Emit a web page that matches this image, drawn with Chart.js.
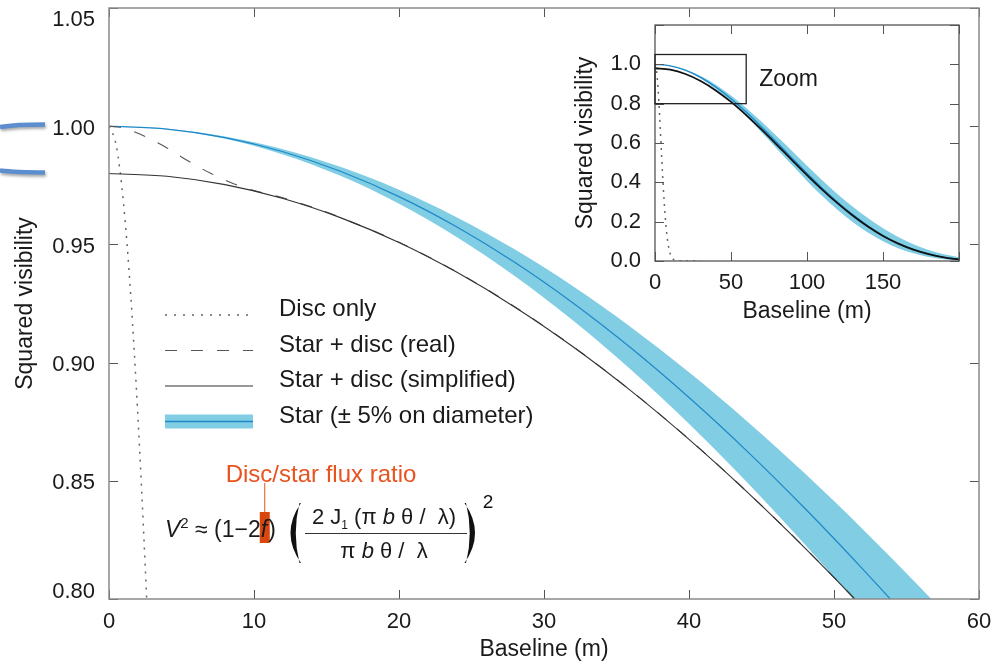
<!DOCTYPE html>
<html>
<head>
<meta charset="utf-8">
<script src="https://cdn.jsdelivr.net/npm/chart.js@4.4.1/dist/chart.umd.min.js"></script>
<style>
  html, body { margin: 0; padding: 0; background: #fff; }
  #wrap { position: relative; width: 1007px; height: 664px; overflow: hidden; }
  #mainChart { position: absolute; left: 0; top: 0; }
  #insetChart { position: absolute; left: 560px; top: 0; }
</style>
</head>
<body>
<div id="wrap">
  <canvas id="mainChart" width="1007" height="664"></canvas>
  <canvas id="insetChart" width="420" height="330"></canvas>
</div>
<script>
// main panel (zoom on the top of the curve)
const mainBaseline = [0, 4, 8, 12, 16, 20, 24, 28, 32, 36, 40, 44, 48, 52, 56, 60];
const starV2 = [1.0, 0.99879, 0.99518, 0.98919, 0.98084, 0.97021, 0.95733, 0.94230, 0.92520, 0.90614, 0.88521, 0.86256, 0.83830, 0.81257, 0.78553, 0.75731];
const starV2Small = [1.0, 0.99891, 0.99565, 0.99024, 0.98270, 0.97308, 0.96142, 0.94780, 0.93228, 0.91495, 0.89590, 0.87522, 0.85304, 0.82945, 0.80459, 0.77857];
const starV2Large = [1.0, 0.99867, 0.99469, 0.98808, 0.97890, 0.96719, 0.95304, 0.93655, 0.91780, 0.89694, 0.87409, 0.84940, 0.82303, 0.79513, 0.76589, 0.73547];
const simplifiedV2 = [0.98, 0.97881, 0.97528, 0.96941, 0.96122, 0.95081, 0.93818, 0.92345, 0.90670, 0.88802, 0.86751, 0.84531, 0.82153, 0.79632, 0.76982, 0.74216];

const realBaseline = [0, 1, 2, 3, 4, 5, 6, 7, 8, 9, 10, 12, 14, 16, 20, 24, 28, 32, 36, 40, 44, 48, 52, 56, 60];
const realV2 = [1.0, 0.9993, 0.9970, 0.9941, 0.9908, 0.9870, 0.9834, 0.9801, 0.9772, 0.9747, 0.9728, 0.9697, 0.9658, 0.96132, 0.9509, 0.93828, 0.92355, 0.90679, 0.88811, 0.8676, 0.8454, 0.82162, 0.7964, 0.7699, 0.74224];

const discBaseline = [0, 0.5, 1, 1.5, 2, 2.5, 3, 3.5, 4];
const discV2 = [1.0, 0.9918, 0.9675, 0.9284, 0.8763, 0.8136, 0.7430, 0.6675, 0.5898];

// inset (full curve)
const insetBaseline = [0, 10, 20, 30, 40, 50, 60, 70, 80, 90, 100, 110, 120, 130, 140, 150, 160, 170, 180, 190, 200];
const insetStar = [1.0, 0.99248, 0.97021, 0.93400, 0.88521, 0.82561, 0.75731, 0.68254, 0.60400, 0.52433, 0.44582, 0.37048, 0.30004, 0.23585, 0.17889, 0.12990, 0.09037, 0.05924, 0.03564, 0.01887, 0.00804];
const insetStarSmall = [1.0, 0.99321, 0.97308, 0.94028, 0.89590, 0.84141, 0.77857, 0.70882, 0.63543, 0.56023, 0.48489, 0.41101, 0.34098, 0.27660, 0.21825, 0.16657, 0.12198, 0.08472, 0.05624, 0.03458, 0.01887];
const insetStarLarge = [1.0, 0.99170, 0.96719, 0.92744, 0.87409, 0.80927, 0.73547, 0.65505, 0.57217, 0.48880, 0.40732, 0.33015, 0.26004, 0.19768, 0.14435, 0.10023, 0.06522, 0.03882, 0.02021, 0.00840, 0.00216];
const insetSimplified = [0.98, 0.97263, 0.95081, 0.91532, 0.86751, 0.80910, 0.74216, 0.66889, 0.59192, 0.51384, 0.43690, 0.36307, 0.29404, 0.23113, 0.17531, 0.12730, 0.08856, 0.05806, 0.03493, 0.01849, 0.00788];
const insetDiscBaseline = [0, 1, 2, 3, 4, 5, 6, 7, 8, 10, 12, 15, 20, 30];
const insetDiscV2 = [1.0, 0.9675, 0.8763, 0.7430, 0.5898, 0.4382, 0.3048, 0.1985, 0.1210, 0.0369, 0.0086, 0.0006, 0, 0];
const zoomRange = [0, 60, 0.80, 1.05];

const legendLabels = ['Disc only', 'Star + disc (real)', 'Star + disc (simplified)', 'Star (\u00b1 5% on diameter)'];

const FONT = '"Liberation Sans", Arial, Helvetica, sans-serif';
const bandColor = 'rgb(128,205,228)';
const starColor = 'rgb(30,136,200)';
const txt = '#1a1a1a';

Chart.defaults.font.family = FONT;
Chart.defaults.color = txt;

function pts(xs, ys) {
    return xs.map((x, i) => ({ x: x, y: ys[i] }));
}

// no extra room for the end labels, the chart area is set by the layout padding
function noPad(s) {
    s.paddingTop = 0;
    s.paddingBottom = 0;
    s.paddingLeft = 0;
    s.paddingRight = 0;
}

// box with inward ticks on all four sides
const framePlugin = {
    id: 'frame',
    afterDatasetsDraw(chart, args, opts) {
        const ctx = chart.ctx;
        const a = chart.chartArea;
        const xs = chart.scales.x, ys = chart.scales.y;
        ctx.save();
        ctx.strokeStyle = opts.tickColor;
        ctx.lineWidth = 1;
        ctx.beginPath();
        xs.ticks.forEach(t => {
            const px = Math.round(xs.getPixelForValue(t.value)) + 0.5;
            ctx.moveTo(px, a.bottom); ctx.lineTo(px, a.bottom - opts.len);
            ctx.moveTo(px, a.top); ctx.lineTo(px, a.top + opts.len);
        });
        ys.ticks.forEach(t => {
            const py = Math.round(ys.getPixelForValue(t.value)) + 0.5;
            ctx.moveTo(a.left, py); ctx.lineTo(a.left + opts.len, py);
            ctx.moveTo(a.right, py); ctx.lineTo(a.right - opts.len, py);
        });
        ctx.stroke();
        ctx.strokeStyle = opts.color;
        ctx.lineWidth = opts.width;
        ctx.strokeRect(a.left, a.top, a.right - a.left, a.bottom - a.top);
        ctx.restore();
    }
};

// y tick labels of the main panel, kept inside the canvas at both ends
const yLabelPlugin = {
    id: 'yLabels',
    afterDraw(chart) {
        const ctx = chart.ctx;
        const ys = chart.scales.y;
        ctx.save();
        ctx.fillStyle = txt;
        ctx.font = '22px ' + FONT;
        ctx.textAlign = 'right';
        ctx.textBaseline = 'middle';
        ys.ticks.forEach(t => {
            const py = Math.min(Math.max(ys.getPixelForValue(t.value) + 2.5, 20), 592);
            ctx.fillText(t.label, chart.chartArea.left - 14, py);
        });
        ctx.restore();
    }
};

// legend, formula and the two blue marks on the left
const mainDecor = {
    id: 'mainDecor',
    afterDraw(chart) {
        const ctx = chart.ctx;
        const ds = chart.data.datasets;
        ctx.save();

        // legend
        const rows = [3, 2, 1, 0];
        rows.forEach((di, i) => {
            const d = ds[di];
            const ly = 315 + i * 35.5;
            ctx.save();
            if (di === 0) {
                ctx.fillStyle = bandColor;
                ctx.fillRect(165, ly - 7, 88, 14);
            }
            ctx.strokeStyle = d.borderColor;
            ctx.lineWidth = di === 0 ? 1.5 : d.borderWidth;
            ctx.setLineDash(di === 3 ? [2, 7] : (d.borderDash || []));
            ctx.beginPath();
            ctx.moveTo(165, ly); ctx.lineTo(253, ly);
            ctx.stroke();
            ctx.restore();
            ctx.fillStyle = txt;
            ctx.font = '24px ' + FONT;
            ctx.textBaseline = 'alphabetic';
            ctx.fillText(d.label, 279, ly + 1);
        });

        // formula
        const base = 537;
        let x = 165;
        ctx.fillStyle = txt;
        ctx.textBaseline = 'alphabetic';
        ctx.font = 'italic 23px ' + FONT;
        ctx.fillText('V', x, base); x += ctx.measureText('V').width;
        ctx.font = '15px ' + FONT;
        ctx.fillText('2', x, base - 9); x += ctx.measureText('2').width;
        ctx.font = '23px ' + FONT;
        ctx.fillText(' \u2248 (1\u22122', x, base); x += ctx.measureText(' \u2248 (1\u22122').width;
        ctx.font = 'italic 23px ' + FONT;
        const fw = ctx.measureText('f').width;
        ctx.fillStyle = '#d9470f';
        ctx.fillRect(x - 1, 512, 10, 31);
        ctx.fillStyle = txt;
        ctx.fillText('f', x, base);
        const fx = x + 3.5;
        x += fw;
        ctx.font = '23px ' + FONT;
        ctx.fillText(')', x + 1, base);

        // flux ratio label
        ctx.strokeStyle = '#e8531f';
        ctx.lineWidth = 1;
        ctx.beginPath();
        ctx.moveTo(fx + 0.5, 483); ctx.lineTo(fx + 0.5, 512);
        ctx.stroke();
        ctx.fillStyle = '#e8531f';
        ctx.font = '24px ' + FONT;
        ctx.textAlign = 'center';
        ctx.textBaseline = 'middle';
        ctx.fillText('Disc/star flux ratio', 321, 475);

        // big parentheses
        ctx.fillStyle = '#111';
        ctx.beginPath();
        ctx.moveTo(301, 503);
        ctx.quadraticCurveTo(280, 533, 301, 563);
        ctx.lineTo(299.5, 563);
        ctx.quadraticCurveTo(292, 533, 299.5, 503);
        ctx.closePath();
        ctx.fill();
        ctx.beginPath();
        ctx.moveTo(464.5, 503);
        ctx.quadraticCurveTo(485.5, 533, 464.5, 563);
        ctx.lineTo(466, 563);
        ctx.quadraticCurveTo(473.5, 533, 466, 503);
        ctx.closePath();
        ctx.fill();
        ctx.font = '19px ' + FONT;
        ctx.fillText('2', 488, 503);

        // fraction
        ctx.fillStyle = txt;
        ctx.textAlign = 'left';
        ctx.textBaseline = 'alphabetic';
        const numParts = [
            ['2 J', '22px ', 0], ['1', '12px ', 5], [' (\u03c0 ', '22px ', 0], ['b', 'italic 22px ', 0], [' \u03b8 /  \u03bb)', '22px ', 0]
        ];
        const denParts = [
            ['\u03c0 ', '22px ', 0], ['b', 'italic 22px ', 0], [' \u03b8 /  \u03bb', '22px ', 0]
        ];
        function drawParts(parts, cx, by) {
            let w = 0;
            parts.forEach(p => { ctx.font = p[1] + FONT; w += ctx.measureText(p[0]).width; });
            let px = cx - w / 2;
            parts.forEach(p => {
                ctx.font = p[1] + FONT;
                ctx.fillText(p[0], px, by + p[2]);
                px += ctx.measureText(p[0]).width;
            });
        }
        drawParts(numParts, 384, 524);
        drawParts(denParts, 384, 558);
        ctx.strokeStyle = '#333';
        ctx.lineWidth = 1;
        ctx.beginPath();
        ctx.moveTo(305, 533.5); ctx.lineTo(467, 533.5);
        ctx.stroke();

        // blue marks at the left edge
        ctx.strokeStyle = '#5b8dcf';
        ctx.lineWidth = 4.5;
        ctx.lineCap = 'butt';
        ctx.shadowColor = 'rgba(0,0,0,0.35)';
        ctx.shadowBlur = 3;
        ctx.shadowOffsetX = 1;
        ctx.shadowOffsetY = 2;
        ctx.beginPath();
        ctx.moveTo(0, 127); ctx.quadraticCurveTo(15, 124.5, 45, 124.5);
        ctx.stroke();
        ctx.beginPath();
        ctx.moveTo(0, 170.5); ctx.quadraticCurveTo(15, 172.5, 45, 172.5);
        ctx.stroke();
        ctx.restore();
    }
};

// zoom box in the inset
const zoomBoxPlugin = {
    id: 'zoomBox',
    afterDatasetsDraw(chart) {
        const ctx = chart.ctx;
        const xs = chart.scales.x, ys = chart.scales.y;
        const x0 = xs.getPixelForValue(zoomRange[0]), x1 = xs.getPixelForValue(zoomRange[1]);
        const y0 = ys.getPixelForValue(zoomRange[2]), y1 = ys.getPixelForValue(zoomRange[3]);
        ctx.save();
        ctx.strokeStyle = '#222';
        ctx.lineWidth = 1.3;
        ctx.strokeRect(x0, y1, x1 - x0, y0 - y1);
        ctx.fillStyle = txt;
        ctx.font = '23px ' + FONT;
        ctx.textBaseline = 'middle';
        ctx.fillText('Zoom', x1 + 13, (y0 + y1) / 2 + 1);
        ctx.restore();
    }
};

new Chart(document.getElementById('mainChart').getContext('2d'), {
    type: 'line',
    data: {
        datasets: [
            {
                label: legendLabels[3],
                data: pts(mainBaseline, starV2),
                borderColor: starColor,
                borderWidth: 1.2,
                fill: false
            },
            {
                label: legendLabels[2],
                data: pts(mainBaseline, simplifiedV2),
                borderColor: '#333',
                borderWidth: 1.1,
                fill: false
            },
            {
                label: legendLabels[1],
                data: pts(realBaseline, realV2),
                borderColor: '#555',
                borderWidth: 1.1,
                borderDash: [12, 14],
                fill: false
            },
            {
                label: legendLabels[0],
                data: pts(discBaseline, discV2),
                borderColor: '#666',
                borderWidth: 1.5,
                borderDash: [2, 6],
                fill: false
            },
            {
                label: 'band upper',
                data: pts(mainBaseline, starV2Small),
                borderWidth: 0,
                borderColor: bandColor,
                backgroundColor: bandColor,
                fill: 5
            },
            {
                label: 'band lower',
                data: pts(mainBaseline, starV2Large),
                borderWidth: 0,
                borderColor: bandColor,
                fill: false
            }
        ]
    },
    options: {
        responsive: false,
        animation: false,
        devicePixelRatio: 1,
        layout: { padding: { top: 8, right: 28, left: 0, bottom: 0 } },
        elements: {
            point: { radius: 0 },
            line: { cubicInterpolationMode: 'monotone' }
        },
        plugins: {
            legend: { display: false },
            tooltip: { enabled: false },
            frame: { color: '#8a8a8a', width: 1.5, tickColor: '#555', len: 9 }
        },
        scales: {
            x: {
                type: 'linear',
                min: 0,
                max: 60,
                grid: { display: false, drawTicks: false },
                border: { display: false },
                ticks: { stepSize: 10, padding: 10, font: { size: 22 }, color: txt },
                title: { display: true, text: 'Baseline (m)', font: { size: 23 }, color: txt, padding: { top: 0, bottom: 1 } },
                afterFit: s => { s.height = 65; noPad(s); }
            },
            y: {
                type: 'linear',
                min: 0.8,
                max: 1.05,
                grid: { display: false, drawTicks: false },
                border: { display: false },
                // labels are drawn by yLabelPlugin
                ticks: { stepSize: 0.05, padding: 14, font: { size: 22 }, color: 'rgba(0,0,0,0)', callback: v => v.toFixed(2) },
                title: { display: true, text: 'Squared visibility', font: { size: 23 }, color: txt, padding: { top: 12, bottom: 0 } },
                afterFit: s => { s.width = 109; noPad(s); }
            }
        }
    },
    plugins: [framePlugin, yLabelPlugin, mainDecor]
});

new Chart(document.getElementById('insetChart').getContext('2d'), {
    type: 'line',
    data: {
        datasets: [
            {
                label: 'Star + disc (simplified)',
                data: pts(insetBaseline, insetSimplified),
                borderColor: '#111',
                borderWidth: 1.8,
                fill: false
            },
            {
                label: 'Star',
                data: pts(insetBaseline, insetStar),
                borderColor: starColor,
                borderWidth: 1.3,
                fill: false
            },
            {
                label: 'Disc only',
                data: pts(insetDiscBaseline, insetDiscV2),
                borderColor: '#666',
                borderWidth: 1.5,
                borderDash: [2, 5],
                fill: false
            },
            {
                label: 'band upper',
                data: pts(insetBaseline, insetStarSmall),
                borderWidth: 0,
                borderColor: bandColor,
                backgroundColor: bandColor,
                fill: 4
            },
            {
                label: 'band lower',
                data: pts(insetBaseline, insetStarLarge),
                borderWidth: 0,
                borderColor: bandColor,
                fill: false
            }
        ]
    },
    options: {
        responsive: false,
        animation: false,
        devicePixelRatio: 1,
        layout: { padding: { top: 25, right: 21, left: 0, bottom: 0 } },
        elements: {
            point: { radius: 0 },
            line: { cubicInterpolationMode: 'monotone' }
        },
        plugins: {
            legend: { display: false },
            tooltip: { enabled: false },
            frame: { color: '#555', width: 1.3, tickColor: '#555', len: 9 }
        },
        scales: {
            x: {
                type: 'linear',
                min: 0,
                max: 200,
                grid: { display: false, drawTicks: false },
                border: { display: false },
                ticks: { stepSize: 50, padding: 9, font: { size: 22 }, color: txt, callback: v => (v >= 200 ? '' : v) },
                title: { display: true, text: 'Baseline (m)', font: { size: 23 }, color: txt, padding: { top: 0, bottom: 5 } },
                afterFit: s => { s.height = 69; noPad(s); }
            },
            y: {
                type: 'linear',
                min: 0,
                max: 1.2,
                grid: { display: false, drawTicks: false },
                border: { display: false },
                ticks: { stepSize: 0.2, padding: 14, font: { size: 22 }, color: txt, callback: v => (v > 1.1 ? '' : v.toFixed(1)) },
                title: { display: true, text: 'Squared visibility', font: { size: 23 }, color: txt, padding: { top: 12, bottom: 0 } },
                afterFit: s => { s.width = 95; noPad(s); }
            }
        }
    },
    plugins: [framePlugin, zoomBoxPlugin]
});
</script>
</body>
</html>
